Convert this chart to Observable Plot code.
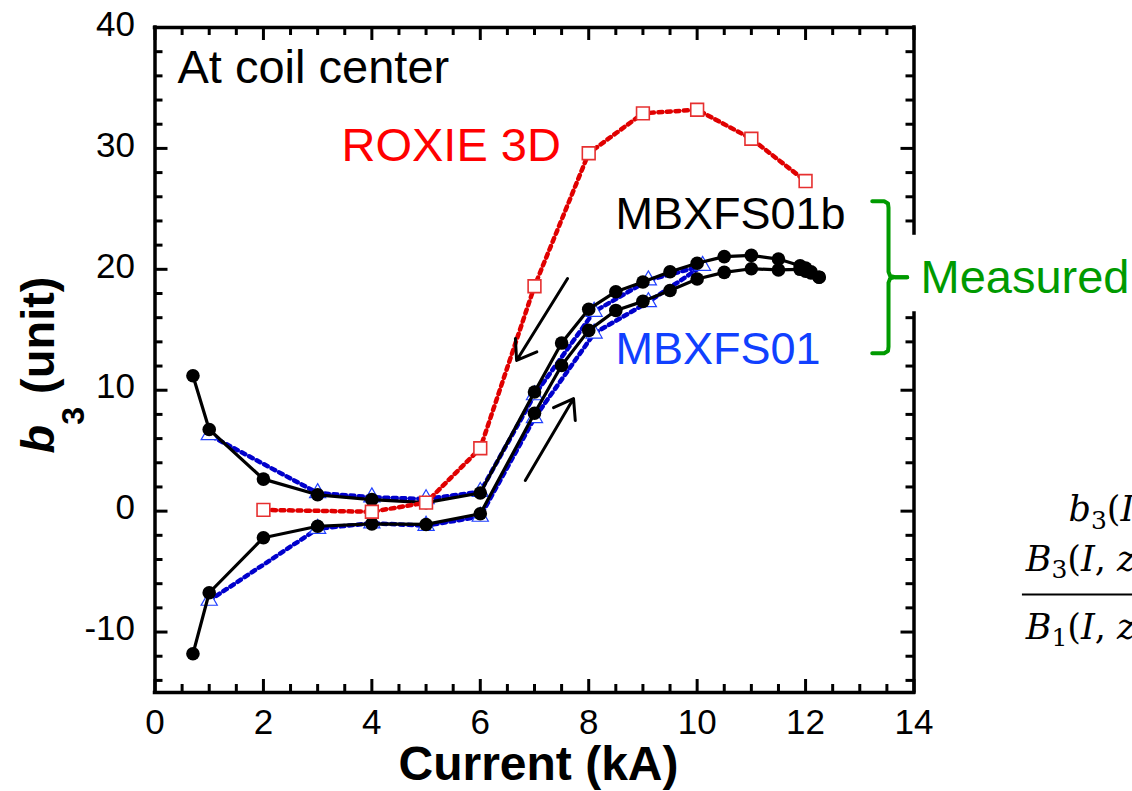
<!DOCTYPE html>
<html><head><meta charset="utf-8">
<script src="https://cdn.jsdelivr.net/npm/d3@7"></script>
<script src="https://cdn.jsdelivr.net/npm/@observablehq/plot@0.6"></script>
<style>html,body{margin:0;padding:0;background:#fff;overflow:hidden}</style>
</head><body><div id="chart"></div>
<script>
// ---------- data (current in kA, b3 in units) ----------
const mbxfs01bUpCurrent   = [0.7, 1, 2, 3, 4, 5, 6, 7, 7.5, 8, 8.5, 9, 9.5, 10, 10.5, 11, 11.5, 11.9, 12.0, 12.1, 12.25];
const mbxfs01bUpB3        = [-11.8, -6.75, -2.2, -1.25, -1.05, -1.1, -0.22, 8.1, 12.05, 14.95, 16.6, 17.35, 18.25, 19.2, 19.75, 20.05, 19.95, 20.0, 19.85, 19.7, 19.35];
const mbxfs01bDownCurrent = [12.25, 12.1, 12.0, 11.9, 11.5, 11, 10.5, 10, 9.5, 9, 8.5, 8, 7.5, 7, 6, 5, 4, 3, 2, 1, 0.7];
const mbxfs01bDownB3      = [19.35, 19.8, 20.1, 20.3, 20.85, 21.15, 21.05, 20.5, 19.8, 18.95, 18.15, 16.7, 13.9, 9.85, 1.5, 0.7, 0.95, 1.35, 2.65, 6.75, 11.2];

const mbxfs01Current = [1, 3, 4, 5, 6, 7, 8.1, 9.1, 10.1, 9.1, 8.1, 7, 6, 5, 4, 3, 1];
const mbxfs01B3      = [-7.4, -1.45, -1.0, -1.2, -0.45, 7.7, 14.7, 17.3, 20.3, 19.1, 16.5, 9.6, 1.6, 1.0, 1.15, 1.5, 6.3];

const roxieCurrent = [2, 4, 5, 6, 7, 8, 9, 10, 11, 12];
const roxieB3      = [0.1, -0.05, 0.7, 5.2, 18.6, 29.6, 32.9, 33.2, 30.8, 27.3];

// ticks
const xMajor = [0, 2, 4, 6, 8, 10, 12, 14];
const xMinor = d3.range(0.5, 14, 0.5).filter(v => v % 2 !== 0);
const yMajor = [-10, 0, 10, 20, 30, 40];
const yMinor = d3.range(-14, 40, 2).filter(v => v % 10 !== 0);
const xTickLabels = ["0", "2", "4", "6", "8", "10", "12", "14"];
const yTickLabels = ["-10", "0", "10", "20", "30", "40"];
const measuredGap = [16.34, 22.96]; // part of right axis hidden behind the "Measured" brace

// annotations (data coordinates)
const labelText = ["At coil center", "ROXIE 3D", "MBXFS01b", "MBXFS01", "Measured"];
const labelI    = [0.415, 3.44, 8.495, 8.495, 14.12];
const labelB3   = [35.37, 28.92, 23.37, 12.21, 18.08];

const arrowFromI  = [7.61, 6.83];
const arrowFromB3 = [19.24, 2.53];
const arrowToI    = [6.67, 7.72];
const arrowToB3   = [12.46, 9.31];

const braceUpperI  = [13.23, 13.45, 13.52, 13.53, 13.53, 13.56, 13.65, 13.875];
const braceUpperB3 = [25.63, 25.63, 25.45, 25.1, 19.8, 19.45, 19.35, 19.35];
const braceLowerI  = [13.23, 13.45, 13.52, 13.53, 13.53, 13.56, 13.65, 13.875];
const braceLowerB3 = [13.06, 13.06, 13.24, 13.6, 18.9, 19.25, 19.35, 19.35];

const formulaText = ["b3(I, z) = ", "B3(I, z)", "B1(I, z)"];
const formulaI    = [16.85, 16.06, 16.06];
const formulaB3   = [-0.78, -4.91, -10.54];
const fractionBar = {x1: 16.0, x2: 18.2, y: -6.9};

// ---------- build ----------
const W = 1132, H = 791;
const mL = 154.5, mR = 218.5, mT = 27, mB = 99;
const innerW = W - mL - mR, innerH = H - mT - mB;
const majorLen = 13, minorLen = 8;

const rows = (I, B, series) => I.map((d, i) => ({current: d, b3: B[i], series}));
const blackData = [...rows(mbxfs01bUpCurrent, mbxfs01bUpB3, "up"), ...rows(mbxfs01bDownCurrent, mbxfs01bDownB3, "down")];
const blueData = rows(mbxfs01Current, mbxfs01B3, "MBXFS01");
const redData = rows(roxieCurrent, roxieB3, "ROXIE");
const labels = labelText.map((t, i) => ({t, x: labelI[i], y: labelB3[i]}));
const labelColors = ["#000000", "#ff0000", "#000000", "#1040ff", "#009a00"];
const arrows = arrowFromI.map((d, i) => ({x1: d, y1: arrowFromB3[i], x2: arrowToI[i], y2: arrowToB3[i]}));
const brace = [...rows(braceUpperI, braceUpperB3, "u"), ...rows(braceLowerI, braceLowerB3, "l")];
const formula = formulaText.map((t, i) => ({t, x: formulaI[i], y: formulaB3[i]}));
const rightTicksMajor = yMajor.filter(v => v < measuredGap[0] || v > measuredGap[1]);
const rightTicksMinor = yMinor.filter(v => v < measuredGap[0] || v > measuredGap[1]);

const tickStyle = {stroke: "#000", strokeWidth: 3};
const svg = Plot.plot({
  width: W, height: H,
  marginLeft: mL, marginRight: mR, marginTop: mT, marginBottom: mB,
  x: {domain: [0, 14], axis: null},
  y: {domain: [-15, 40], axis: null},
  style: {fontFamily: "'Liberation Sans', Arial, sans-serif", background: "white", color: "black"},
  marks: [
    // data
    Plot.line(blueData, {x: "current", y: "b3", stroke: "#0000cc", strokeWidth: 4.5, strokeDasharray: "4,4.5"}),
    Plot.dot(blueData, {x: "current", y: "b3", symbol: "triangle", r: 6, stroke: "#2040ff", strokeWidth: 1.2, fill: "white"}),
    Plot.line(blackData, {x: "current", y: "b3", z: "series", stroke: "#000", strokeWidth: 3.2}),
    Plot.dot(blackData, {x: "current", y: "b3", r: 6.8, fill: "#000", stroke: "none"}),
    Plot.line(redData, {x: "current", y: "b3", stroke: "#e00000", strokeWidth: 4.5, strokeDasharray: "4,4.5"}),
    Plot.dot(redData, {x: "current", y: "b3", symbol: "square", r: 7.2, stroke: "#e63030", strokeWidth: 1.6, fill: "white"}),
    // arrows
    Plot.arrow(arrows, {x1: "x1", y1: "y1", x2: "x2", y2: "y2", stroke: "#000", strokeWidth: 3, headLength: 11, headAngle: 70}),
    // brace
    Plot.line(brace, {x: "current", y: "b3", z: "series", stroke: "#009a00", strokeWidth: 4, strokeLinejoin: "round"}),
    // labels
    Plot.text(labels, {x: "x", y: "y", text: "t", textAnchor: "start", lineAnchor: "bottom", fill: (d, i) => labelColors[i]}),
    // frame
    Plot.ruleX([0], {...tickStyle, strokeWidth: 3.5, strokeLinecap: "square"}),
    Plot.ruleY([-15, 40], {...tickStyle, strokeWidth: 3.5, strokeLinecap: "square"}),
    Plot.ruleX([{y1: -15, y2: measuredGap[0]}, {y1: measuredGap[1], y2: 40}], {x: () => 14, y1: "y1", y2: "y2", ...tickStyle, strokeWidth: 3.5, strokeLinecap: "square"}),
    // ticks: bottom, top, left, right
    Plot.tickX(xMajor, {x: d => d, insetTop: innerH - majorLen, ...tickStyle}),
    Plot.tickX(xMinor, {x: d => d, insetTop: innerH - minorLen, ...tickStyle}),
    Plot.tickX(xMajor, {x: d => d, insetBottom: innerH - majorLen, ...tickStyle}),
    Plot.tickX(xMinor, {x: d => d, insetBottom: innerH - minorLen, ...tickStyle}),
    Plot.tickY(yMajor, {y: d => d, insetRight: innerW - majorLen, ...tickStyle}),
    Plot.tickY(yMinor, {y: d => d, insetRight: innerW - minorLen, ...tickStyle}),
    Plot.tickY(rightTicksMajor, {y: d => d, insetLeft: innerW - majorLen, ...tickStyle}),
    Plot.tickY(rightTicksMinor, {y: d => d, insetLeft: innerW - minorLen, ...tickStyle}),
    // tick labels
    Plot.text(yMajor, {frameAnchor: "left", y: d => d, text: (d, i) => yTickLabels[i], textAnchor: "end", dx: -20, dy: -3, fontSize: 35, fill: "#000"}),
    Plot.text(xMajor, {frameAnchor: "bottom", x: d => d, text: (d, i) => xTickLabels[i], lineAnchor: "bottom", dy: 41, fontSize: 35, fill: "#000"}),
    // axis titles
    Plot.text(["Current (kA)"], {frameAnchor: "bottom", text: d => d, lineAnchor: "bottom", dx: 4, dy: 87, fontSize: 48, fontWeight: "bold", fill: "#000"}),
    Plot.text(["b3 (unit)"], {frameAnchor: "left", text: d => d, rotate: -90, textAnchor: "start", lineAnchor: "bottom", dx: -101.5, dy: 93.5, fontSize: 47, fontWeight: "bold", fill: "#000"}),
    // formula (partially cut off at the right edge, as in the source figure)
    Plot.text(formula, {x: "x", y: "y", text: "t", textAnchor: "start", lineAnchor: "bottom", fontSize: 35, fontFamily: "'DejaVu Serif', serif", fill: "#000"}),
    Plot.ruleY([fractionBar], {y: "y", x1: "x1", x2: "x2", stroke: "#000", strokeWidth: 2})
  ]
});

// label font sizes
d3.select(svg).selectAll("text").each(function() {
  const t = this.textContent;
  if (labelText.includes(t)) {
    this.setAttribute("font-size", (t === "MBXFS01b" || t === "MBXFS01") ? 45 : 47);
  }
});

// rich text (italic letters, subscripts)
const rich = {
  "b3 (unit)": [{t: "b", it: true}, {t: "3", size: 32, dy: 30}, {t: " (unit)", dy: -30}],
  "b3(I, z) = ": [{t: "b", it: true}, {t: "3", size: 25, dy: 8}, {t: "(", dy: -8}, {t: "I", it: true}, {t: ", "}, {t: "z", it: true}, {t: ") ="}],
  "B3(I, z)": [{t: "B", it: true}, {t: "3", size: 25, dy: 7}, {t: "(", dy: -7}, {t: "I", it: true}, {t: ", "}, {t: "z", it: true}, {t: ")"}],
  "B1(I, z)": [{t: "B", it: true}, {t: "1", size: 25, dy: 7}, {t: "(", dy: -7}, {t: "I", it: true}, {t: ", "}, {t: "z", it: true}, {t: ")"}]
};
d3.select(svg).selectAll("text").each(function() {
  const spec = rich[this.textContent];
  if (!spec) return;
  const el = d3.select(this);
  el.text(null);
  for (const p of spec) {
    const ts = el.append("tspan").text(p.t);
    if (p.it) ts.attr("font-style", "italic");
    if (p.size) ts.attr("font-size", p.size);
    if (p.dy) ts.attr("dy", p.dy);
  }
});

document.getElementById("chart").appendChild(svg);
</script>
</body></html>
